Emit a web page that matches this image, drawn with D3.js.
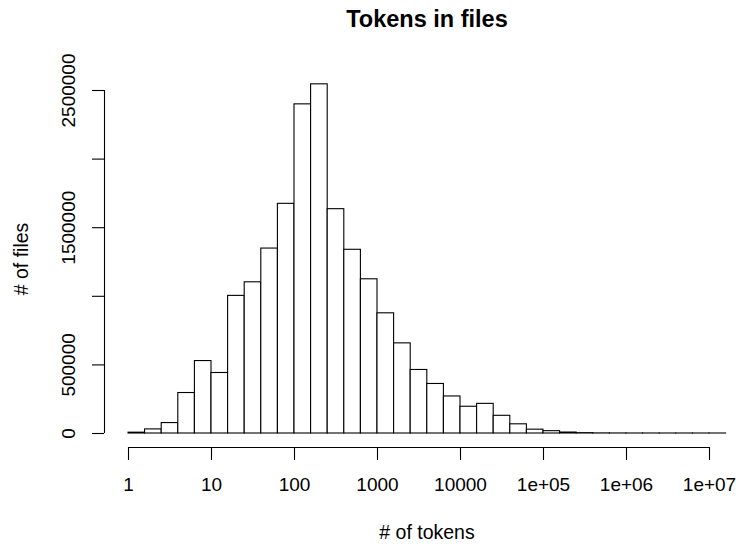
<!DOCTYPE html>
<html>
<head>
<meta charset="utf-8">
<script src="https://cdn.jsdelivr.net/npm/d3@7/dist/d3.min.js"></script>
<style>
  html, body { margin: 0; padding: 0; background: #fff; }
  svg { display: block; font-family: "Liberation Sans", Arial, Helvetica, sans-serif; }
</style>
</head>
<body>
<svg id="chart" width="739" height="548"></svg>
<script>
// Histogram bins: log10 of the token count, bin edges every 0.2
const binEdges = [0, 0.2, 0.4, 0.6, 0.8, 1.0, 1.2, 1.4, 1.6, 1.8, 2.0, 2.2, 2.4,
  2.6, 2.8, 3.0, 3.2, 3.4, 3.6, 3.8, 4.0, 4.2, 4.4, 4.6, 4.8, 5.0, 5.2, 5.4,
  5.6, 5.8, 6.0, 6.2, 6.4, 6.6, 6.8, 7.0, 7.2];

// Number of files in each bin
const fileCounts = [6000, 30000, 76000, 295000, 528000, 441000, 1003000, 1102000,
  1348000, 1674000, 2399000, 2545000, 1635000, 1339000, 1124000, 876000,
  657000, 463000, 361000, 270000, 195000, 216000, 129000, 67000, 28000,
  17000, 7000, 2500, 800, 300, 100, 50, 20, 10, 5, 2];

// Axis ticks and labels
const xTicks = [1, 10, 100, 1000, 10000, 1e5, 1e6, 1e7];
const xTickLabels = ["1", "10", "100", "1000", "10000", "1e+05", "1e+06", "1e+07"];
const yTicks = [0, 500000, 1000000, 1500000, 2000000, 2500000];
const yTickLabels = ["0", "500000", "", "1500000", "", "2500000"];

const titleText = "Tokens in files";
const xTitle = "# of tokens";
const yTitle = "# of files";

const bins = fileCounts.map((c, i) => ({
  x0: Math.pow(10, binEdges[i]),
  x1: Math.pow(10, binEdges[i + 1]),
  count: c
}));

const svg = d3.select("#chart");
const tickFont = 19;
const labelFont = 19.5;

const x = d3.scaleLog().domain([1, 1e7]).range([128, 709]);
const y = d3.scaleLinear().domain([0, 2500000]).range([433, 90]);

// Bars
svg.append("g")
  .selectAll("rect")
  .data(bins)
  .join("rect")
  .attr("x", d => x(d.x0))
  .attr("width", d => x(d.x1) - x(d.x0))
  .attr("y", d => y(d.count))
  .attr("height", d => y(0) - y(d.count))
  .attr("fill", "#fff")
  .attr("stroke", "#000")
  .attr("stroke-width", 1.1);

// X axis
const xAxis = d3.axisBottom(x)
  .tickValues(xTicks)
  .tickFormat((d, i) => xTickLabels[i])
  .tickSizeOuter(0)
  .tickSize(13)
  .tickPadding(18);

const gx = svg.append("g")
  .attr("transform", "translate(0,447)")
  .call(xAxis);
gx.select(".domain").attr("d", `M${x(1)},0.5H${x(1e7)}`).attr("stroke", "#000").attr("stroke-width", 1.1);
gx.selectAll(".tick line").attr("stroke", "#000").attr("stroke-width", 1.1);
gx.selectAll(".tick text")
  .attr("fill", "#000")
  .attr("font-size", tickFont)
  .attr("font-family", "Liberation Sans, Arial, sans-serif");

// Y axis with rotated labels
const yAxis = d3.axisLeft(y)
  .tickValues(yTicks)
  .tickFormat((d, i) => yTickLabels[i])
  .tickSizeOuter(0)
  .tickSize(12);

const gy = svg.append("g")
  .attr("transform", "translate(104,0)")
  .call(yAxis);
gy.select(".domain").attr("d", `M0.5,${y(0)}V${y(2500000)}`).attr("stroke", "#000").attr("stroke-width", 1.1);
gy.selectAll(".tick line").attr("stroke", "#000").attr("stroke-width", 1.1);
gy.selectAll(".tick text")
  .attr("fill", "#000")
  .attr("font-size", tickFont)
  .attr("font-family", "Liberation Sans, Arial, sans-serif")
  .attr("text-anchor", "middle")
  .attr("dy", null)
  .attr("x", null)
  .attr("transform", "translate(-29.5,0) rotate(-90)");

// Titles
svg.append("text")
  .attr("x", 427)
  .attr("y", 27)
  .attr("text-anchor", "middle")
  .attr("font-size", 23.5)
  .attr("font-weight", "bold")
  .text(titleText);

svg.append("text")
  .attr("x", 427)
  .attr("y", 539)
  .attr("text-anchor", "middle")
  .attr("font-size", labelFont)
  .text(xTitle);

svg.append("text")
  .attr("transform", "translate(28,259) rotate(-90)")
  .attr("text-anchor", "middle")
  .attr("font-size", labelFont)
  .text(yTitle);
</script>
</body>
</html>
